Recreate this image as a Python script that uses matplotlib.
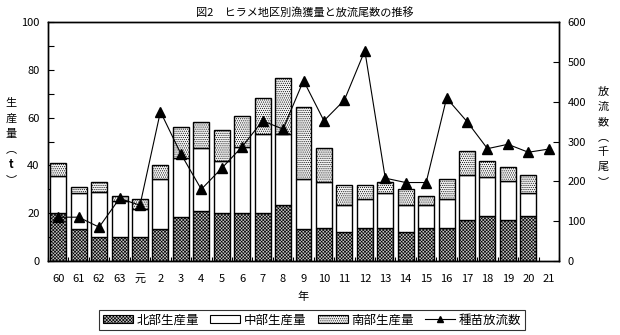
import matplotlib
matplotlib.use("Agg")
import matplotlib.pyplot as plt
from matplotlib.lines import Line2D
from matplotlib.patches import Patch
import numpy as np

plt.rcParams['font.family'] = ['Noto Sans CJK JP', 'DejaVu Sans']
plt.rcParams['hatch.linewidth'] = 0.45

# 年（昭和60年～平成21年）
years = ['60', '61', '62', '63', '元', '2', '3', '4', '5', '6', '7', '8', '9',
         '10', '11', '12', '13', '14', '15', '16', '17', '18', '19', '20', '21']

# 地区別生産量（t）: 北部 / 北部+中部 / 合計
north = [20, 13.4, 10, 10, 10, 13.4, 18.3, 20.9, 20, 20, 20, 23.4, 13.3,
         13.7, 12, 13.7, 13.7, 12, 13.7, 13.7, 17, 18.8, 17, 18.8]
north_mid = [35.7, 28.3, 28.7, 25, 21.9, 34.2, 43, 47.2, 42, 47.8, 53, 53, 34.2,
             33.2, 23.6, 25.8, 28.3, 23.3, 23.4, 25.8, 35.9, 35, 33.3, 28.3]
total = [41, 31, 33.2, 27, 25.8, 40, 56, 58, 55, 60.8, 68, 76.4, 64.3,
         47.2, 31.9, 31.9, 33.2, 30, 27, 34.2, 46, 42, 39.2, 35.9]

# 種苗放流数（千尾）
release = [110, 110, 85, 157, 140, 375, 269, 180, 233, 287, 352, 331, 453,
           352, 404, 528, 208, 197, 197, 409, 350, 282, 293, 273, 281]

north = np.array(north)
middle = np.array(north_mid) - north
south = np.array(total) - np.array(north_mid)

N_FACE, N_HATCH = '#c4c4c4', 'xxxxxxxxxx'
S_FACE, S_HATCH = '#f2f2f2', '........'

fig = plt.figure(figsize=(6.2, 3.35), dpi=100)
ax = fig.add_axes([48 / 620, 1 - 261 / 335, (559 - 48) / 620, (261 - 22) / 335])
ax2 = ax.twinx()

xb = np.arange(len(north))
w = 0.78
ax.bar(xb, north, w, color=N_FACE, edgecolor='black', linewidth=1.0,
       hatch=N_HATCH, zorder=2)
ax.bar(xb, middle, w, bottom=north, color='white', edgecolor='black',
       linewidth=1.0, zorder=2)
ax.bar(xb, south, w, bottom=north + middle, color=S_FACE, edgecolor='black',
       linewidth=1.0, hatch=S_HATCH, zorder=2)

xl = np.arange(len(years))
ax2.plot(xl, release, color='black', linewidth=0.8, marker='^',
         markersize=6.5, markerfacecolor='black', zorder=3)

ax.set_xlim(-0.5, len(years) - 0.5)
ax.set_ylim(0, 100)
ax2.set_ylim(0, 600)

ax.set_xticks(xl)
ax.set_xticklabels(years, fontsize=8)
ax.set_xticks(np.arange(-0.5, len(years)), minor=True)
ax.tick_params(axis='x', which='major', length=0, pad=9)
ax.tick_params(axis='x', which='minor', direction='in', length=3, width=0.8)

ax.set_yticks(np.arange(0, 101, 20))
ax.set_yticks(np.arange(0, 101, 10), minor=True)
ax.tick_params(axis='y', which='both', direction='in', length=4, width=0.8,
               labelsize=8, pad=6)
ax2.set_yticks(np.arange(0, 601, 100))
ax2.tick_params(axis='y', direction='in', length=4, width=0.8,
                labelsize=8, pad=6)

for a in (ax, ax2):
    for s in a.spines.values():
        s.set_linewidth(1.0)

ax.set_zorder(ax2.get_zorder() - 1)
ax2.patch.set_visible(False)

fig.text(305 / 620, 1 - 12 / 335, '図2　ヒラメ地区別漁獲量と放流尾数の推移',
         ha='center', va='center', fontsize=8)
fig.text(303 / 620, 1 - 297 / 335, '年', ha='center', va='center', fontsize=8)

# 縦書きの軸ラベル
left_label = ['生', '産', '量', '︵', 't', '︶']
for i, ch in enumerate(left_label):
    fig.text(11 / 620, 1 - (103 + i * 15.4) / 335, ch, ha='center',
             va='center', fontsize=8,
             fontweight='bold' if ch == 't' else 'normal')
right_label = ['放', '流', '数', '︵', '千', '尾', '︶']
for i, ch in enumerate(right_label):
    fig.text(603 / 620, 1 - (92 + i * 15) / 335, ch, ha='center',
             va='center', fontsize=8)

handles = [
    Patch(facecolor=N_FACE, edgecolor='black', hatch=N_HATCH, linewidth=0.8),
    Patch(facecolor='white', edgecolor='black', linewidth=0.8),
    Patch(facecolor=S_FACE, edgecolor='black', hatch=S_HATCH, linewidth=0.8),
    Line2D([], [], color='black', linewidth=0.8, marker='^', markersize=5),
]
labels = ['北部生産量', '中部生産量', '南部生産量', '種苗放流数']
leg = fig.legend(handles, labels, loc='center', ncol=4,
                 bbox_to_anchor=(312 / 620, 1 - 320 / 335), fontsize=9,
                 frameon=True, fancybox=False, edgecolor='black',
                 borderpad=0.25, handlelength=2.4, handleheight=0.6,
                 handletextpad=0.3, columnspacing=0.9, borderaxespad=0)
leg.get_frame().set_linewidth(0.8)

fig.savefig('out.png', dpi=100)
